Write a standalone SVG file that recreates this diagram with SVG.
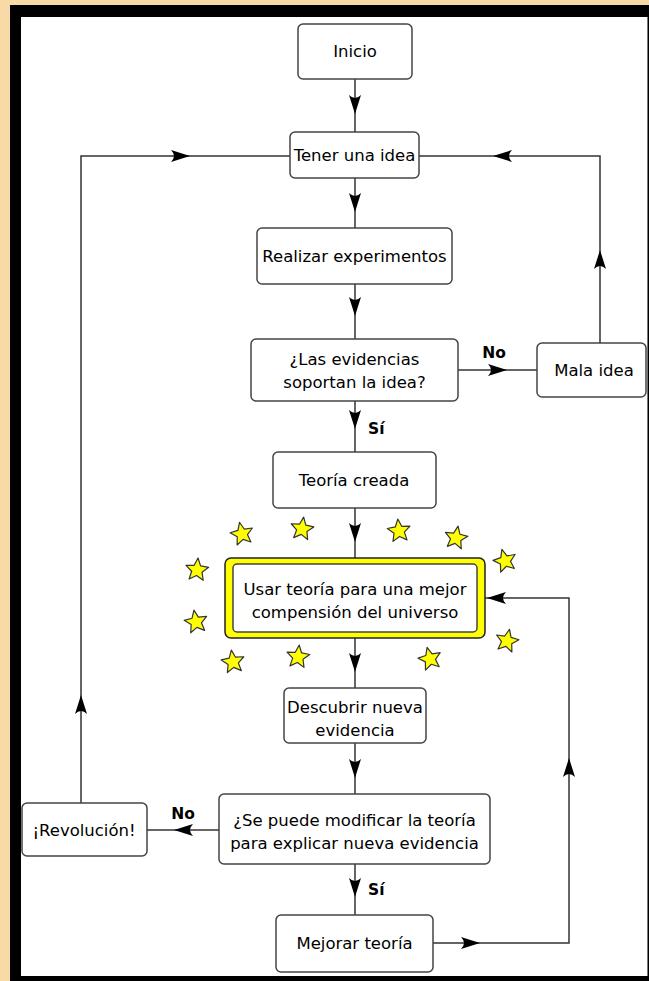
<svg xmlns="http://www.w3.org/2000/svg" xmlns:xlink="http://www.w3.org/1999/xlink" width="649" height="981" viewBox="0 0 649 981">
<style>
.box{fill:#fff;stroke:#444;stroke-width:1.5}
.t{font-family:"DejaVu Sans",sans-serif;font-size:16.5px;fill:#000;text-anchor:middle}
.lbl{font-family:"DejaVu Sans",sans-serif;font-size:15.5px;font-weight:bold;fill:#000}
.ln{fill:none;stroke:#333;stroke-width:1.5}
.ah{fill:#000;stroke:none}
.star{fill:#FFFF00;stroke:#333;stroke-width:1.2;stroke-linejoin:round}
</style>
<defs>
<path id="ah" class="ah" d="M0,0 L-19,-6 Q-13,0 -19,6 Z"/>
<path id="star" class="star" d="M0,-12 L3.2,-4.4 L11.4,-3.7 L5.2,1.7 L7.05,9.7 L0,5.45 L-7.05,9.7 L-5.2,1.7 L-11.4,-3.7 L-3.2,-4.4 Z"/>
</defs>
<rect x="0" y="0" width="649" height="981" fill="#F7DAA6"/>
<rect x="10" y="5" width="639" height="976" fill="#000"/>
<rect x="21" y="17" width="626" height="959" fill="#fff"/>
<line x1="647.5" y1="17" x2="647.5" y2="976" stroke="#777" stroke-width="1"/>

<g id="connectors">
<path class="ln" d="M355,79 V132"/><use xlink:href="#ah" transform="translate(355,114) rotate(90)"/>
<path class="ln" d="M355,178 V228"/><use xlink:href="#ah" transform="translate(355,212) rotate(90)"/>
<path class="ln" d="M355,284 V339"/><use xlink:href="#ah" transform="translate(355,316) rotate(90)"/>
<path class="ln" d="M458,370 H537"/><use xlink:href="#ah" transform="translate(507,370)"/>
<path class="ln" d="M600,343 V156 H419"/><use xlink:href="#ah" transform="translate(600,250) rotate(-90)"/><use xlink:href="#ah" transform="translate(493,156) rotate(180)"/>
<path class="ln" d="M355,401 V452"/><use xlink:href="#ah" transform="translate(355,429) rotate(90)"/>
<path class="ln" d="M355,508 V558"/><use xlink:href="#ah" transform="translate(355,542) rotate(90)"/>
<path class="ln" d="M355,638 V688"/><use xlink:href="#ah" transform="translate(355,672) rotate(90)"/>
<path class="ln" d="M355,743 V794"/><use xlink:href="#ah" transform="translate(355,778) rotate(90)"/>
<path class="ln" d="M219,830 H147"/><use xlink:href="#ah" transform="translate(174,830) rotate(180)"/>
<path class="ln" d="M355,864 V915"/><use xlink:href="#ah" transform="translate(355,897) rotate(90)"/>
<path class="ln" d="M433,943 H569 V598 H485"/><use xlink:href="#ah" transform="translate(480,943)"/><use xlink:href="#ah" transform="translate(569,758) rotate(-90)"/><use xlink:href="#ah" transform="translate(487,598) rotate(180)"/>
<path class="ln" d="M81,803 V156 H290"/><use xlink:href="#ah" transform="translate(81,695) rotate(-90)"/><use xlink:href="#ah" transform="translate(190,156)"/>
<text class="lbl" x="494" y="358" text-anchor="middle">No</text>
<text class="lbl" x="368" y="434">Sí</text>
<text class="lbl" x="183" y="819" text-anchor="middle">No</text>
<text class="lbl" x="368" y="895">Sí</text>
</g>

<g id="stars">
<use xlink:href="#star" transform="translate(242,534) rotate(-12)"/>
<use xlink:href="#star" transform="translate(302,529) rotate(8)"/>
<use xlink:href="#star" transform="translate(399,531) rotate(-6)"/>
<use xlink:href="#star" transform="translate(456,538) rotate(10)"/>
<use xlink:href="#star" transform="translate(505,561) rotate(-15)"/>
<use xlink:href="#star" transform="translate(197,570) rotate(5)"/>
<use xlink:href="#star" transform="translate(196,622) rotate(-10)"/>
<use xlink:href="#star" transform="translate(507,641) rotate(12)"/>
<use xlink:href="#star" transform="translate(233,662) rotate(-8)"/>
<use xlink:href="#star" transform="translate(298,657) rotate(6)"/>
<use xlink:href="#star" transform="translate(430,659) rotate(-14)"/>
</g>

<g id="inicio"><rect class="box" x="298" y="24" width="114" height="55" rx="5"/><text class="t" x="355" y="57">Inicio</text></g>
<g id="tener"><rect class="box" x="290" y="132" width="129" height="46" rx="5"/><text class="t" x="354.5" y="161">Tener una idea</text></g>
<g id="realizar"><rect class="box" x="257" y="228" width="195" height="56" rx="5"/><text class="t" x="354.5" y="262">Realizar experimentos</text></g>
<g id="evidencias"><rect class="box" x="251" y="339" width="207" height="62" rx="5"/><text class="t" x="354.5" y="365">¿Las evidencias</text><text class="t" x="354.5" y="388">soportan la idea?</text></g>
<g id="mala"><rect class="box" x="537" y="343" width="109" height="54" rx="5"/><text class="t" x="594" y="376">Mala idea</text></g>
<g id="teoria"><rect class="box" x="273" y="452" width="163" height="56" rx="5"/><text class="t" x="354" y="486">Teoría creada</text></g>
<g id="usar">
<rect x="225" y="558" width="260" height="80" rx="6" fill="#FFFF00" stroke="#222" stroke-width="1.5"/>
<rect class="box" x="233" y="564" width="244" height="68" rx="4"/>
<text class="t" x="355" y="595">Usar teoría para una mejor</text>
<text class="t" x="355" y="618">compensión del universo</text>
</g>
<g id="descubrir"><rect class="box" x="284" y="688" width="142" height="55" rx="5"/><text class="t" x="355" y="713">Descubrir nueva</text><text class="t" x="355" y="736">evidencia</text></g>
<g id="modificar"><rect class="box" x="219" y="794" width="271" height="70" rx="5"/><text class="t" x="354.5" y="826">¿Se puede modificar la teoría</text><text class="t" x="354.5" y="849">para explicar nueva evidencia</text></g>
<g id="revolucion"><rect class="box" x="22" y="803" width="125" height="53" rx="5"/><text class="t" x="84" y="836">¡Revolución!</text></g>
<g id="mejorar"><rect class="box" x="276" y="915" width="157" height="57" rx="5"/><text class="t" x="354.5" y="949">Mejorar teoría</text></g>
</svg>
